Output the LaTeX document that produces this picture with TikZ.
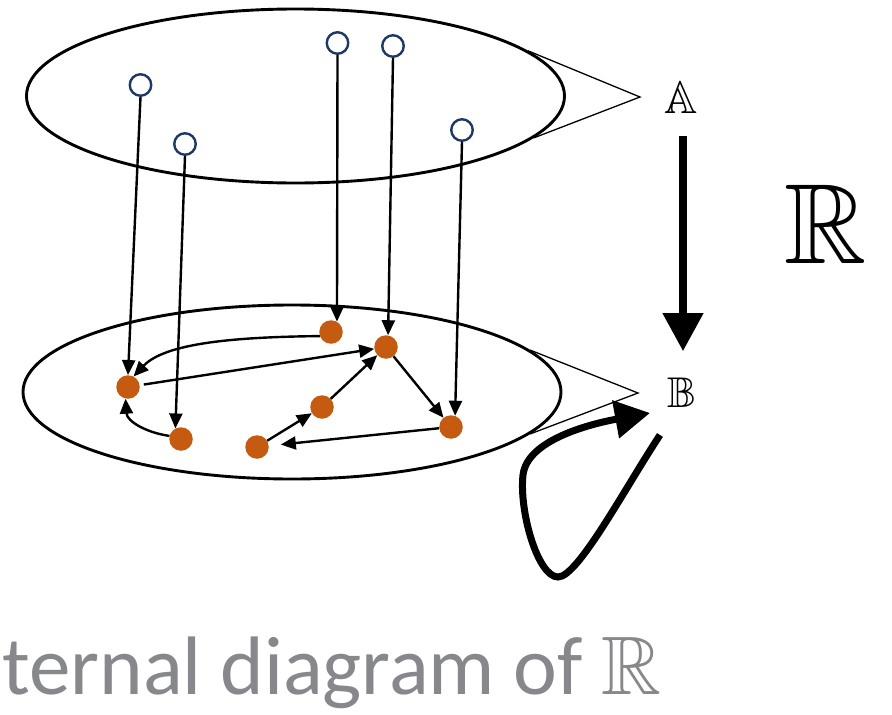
\documentclass[tikz,border=0pt]{standalone}
\usepackage{fontspec}
\newfontfamily\titlefont{Carlito}
\usetikzlibrary{arrows.meta,shapes.geometric}
% double-struck letter from the AMS blackboard font, at the current size
\newcommand{\dsym}[1]{{\usefont{U}{msb}{m}{n}#1}}
\definecolor{dotorange}{HTML}{C55A11}
\definecolor{ringblue}{HTML}{1F3864}
\definecolor{titlegrey}{HTML}{86888C}

\begin{document}
\begin{tikzpicture}[x=1pt, y=-1pt,
  setshape/.style={draw, ellipse, line width=2.9pt, inner sep=0pt,
                   minimum width=538pt, minimum height=174pt},
  ring/.style={circle, draw=ringblue, line width=2.4pt, fill=white,
               inner sep=0pt, minimum size=21.5pt},
  elem/.style={circle, fill=dotorange, inner sep=0pt, minimum size=23.5pt},
  conn/.style={line width=2.4pt, -{Triangle[length=15pt, width=13pt]}},
  callout/.style={line width=1.3pt},
  bblabel/.style={inner sep=0pt, anchor=base},
  bigarrow/.style={line width=7.5pt, -{Triangle[length=38pt, width=39pt]}},
  looparrow/.style={line width=7pt, -{Triangle[length=35pt, width=37pt]}},
]
\useasboundingbox (0,0) rectangle (892,715);

% the two sets
\node[setshape] (setA) at (295.5,96) {};
\node[setshape] (setB) at (292,392) {};

% callout wedges towards the labels
\coordinate (tipA) at (640,97);
\coordinate (tipB) at (638,393);
\draw[callout] (setA.11) -- (tipA) -- (setA.-10);
\draw[callout] (setB.10) -- (tipB) -- (setB.-10);

% labels
\node[bblabel, font=\fontsize{46}{46}\selectfont] (A) at (681,113) {\dsym{A}};
\node[bblabel, font=\fontsize{43}{43}\selectfont] (B) at (681.5,407) {\dsym{B}};
\node[bblabel, font=\fontsize{114}{114}\selectfont] (R) at (826,263) {\dsym{R}};

% the map between the two sets
\draw[bigarrow, shorten <=23pt, shorten >=26pt] (A.south -| 683,0) -- (B.north -| 683,0);

% endomorphism loop on the lower set
\coordinate (loopstart) at (660,435);
\coordinate (looptip) at (650,413);
\draw[looparrow] (loopstart) .. controls (625,488) and (578,577) .. (558,577)
  .. controls (538,577) and (519,512) .. (523,475)
  .. controls (527,440) and (590,424) .. (looptip);

% elements of the upper set
\node[ring] (t1) at (140.5,85) {};
\node[ring] (t2) at (185,144) {};
\node[ring] (t3) at (337.5,43) {};
\node[ring] (t4) at (393,46) {};
\node[ring] (t5) at (462,130) {};

% elements of the lower set
\node[elem] (d1) at (128,387) {};
\node[elem] (d2) at (181,439) {};
\node[elem] (d3) at (331,332) {};
\node[elem] (d4) at (386,347) {};
\node[elem] (d5) at (322,407) {};
\node[elem] (d6) at (257,447) {};
\node[elem] (d7) at (451,427) {};

% vertical maps from the upper set to the lower set
\draw[conn] (t1.south) -- (d1.90);
\draw[conn] (t2.south) -- (d2.118);
\draw[conn] (t3.south) -- (d3.60);
\draw[conn] (t4.south) -- (d4.80);
\draw[conn] (t5.south) -- (d7.70);

% arrows inside the lower set
\draw[conn] (d3.200) .. controls (235,337) and (165,343) .. (d1.62);
\draw[conn] (d2.165) .. controls (148,433) and (127,422) .. (d1.258);
\draw[conn, shorten <=4pt] (d1) -- (d4);
\draw[conn] (d5) -- (d4);
\draw[conn] (d6) -- (d5);
\draw[conn] (d4) -- (d7);
\draw[conn, shorten >=12pt] (d7) -- (d6);

% caption
\node[inner sep=0pt, anchor=base west, text=titlegrey,
      font=\titlefont\fontsize{83}{83}\selectfont]
  (title) at (2,694) {ternal diagram of \dsym{R}};
\end{tikzpicture}
\end{document}
